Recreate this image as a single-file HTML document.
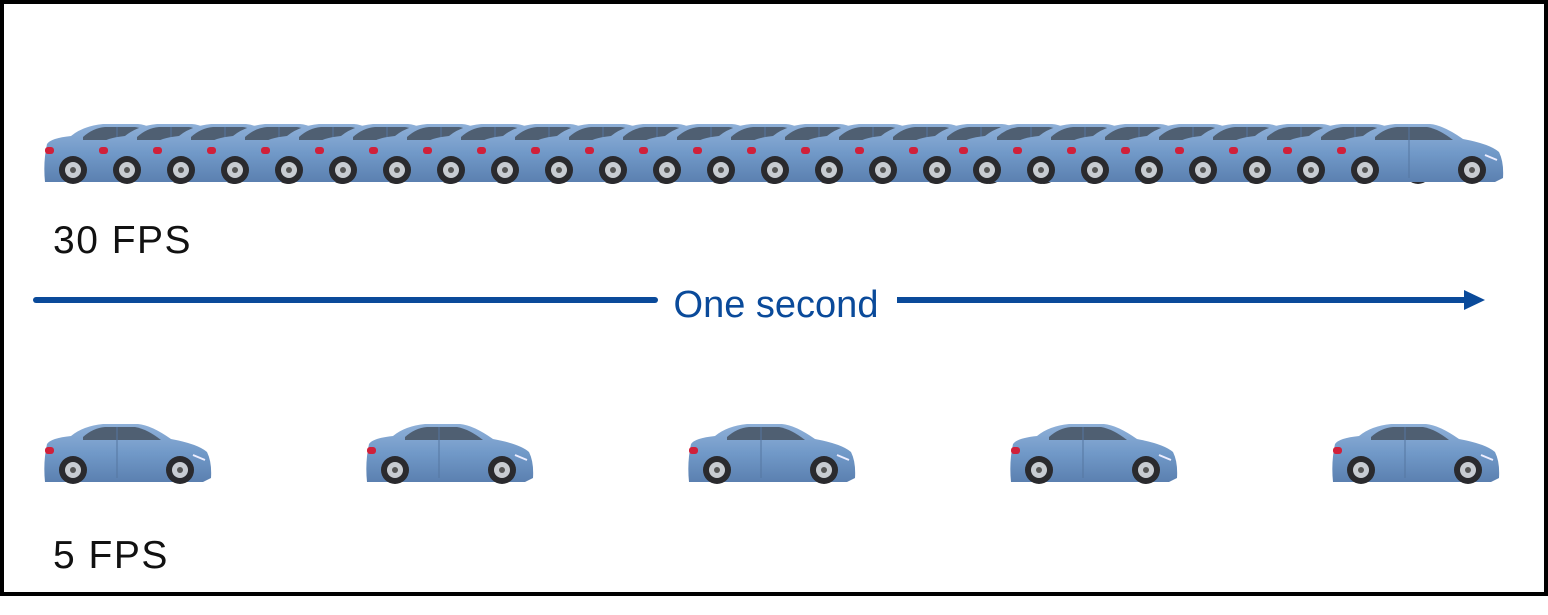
<!DOCTYPE html>
<html><head><meta charset="utf-8"><style>
html,body{margin:0;padding:0;background:#fff;}
body{width:1548px;height:615px;position:relative;overflow:hidden;font-family:"Liberation Sans",sans-serif;}
#frame{position:absolute;left:0;top:0;width:1540px;height:588px;border:4px solid #000;}
.lbl{position:absolute;font-size:39px;color:#111;letter-spacing:1.5px;}
</style></head><body>
<div id="frame"></div>
<svg width="1548" height="615" style="position:absolute;left:0;top:0">
<defs>
<linearGradient id="bg" x1="0" y1="0" x2="0" y2="1">
<stop offset="0" stop-color="#8fb0d8"/><stop offset="0.5" stop-color="#7199c8"/><stop offset="1" stop-color="#5b80b0"/>
</linearGradient>
<g id="car">
<path d="M4,22 Q8,16 28,14 Q40,4 60,2 L95,2 Q108,3 128,17 Q155,22 164,30 Q169,40 168,56 L160,60 L2,60 Q0,40 4,22 Z" fill="url(#bg)"/>
<path d="M40,15 Q50,6 62,5 L92,5 Q104,7 118,18 L40,18 Z" fill="#4f5f72"/>
<line x1="74" y1="5" x2="74" y2="56" stroke="#5576a0" stroke-width="1"/>
<rect x="2" y="25" width="9" height="7" rx="3" fill="#d0203a"/>
<path d="M150,33 L162,38" stroke="#eef" stroke-width="2"/>
<circle cx="30" cy="48" r="14" fill="#2a2a2e"/><circle cx="30" cy="48" r="8" fill="#c8ccd2"/><circle cx="30" cy="48" r="3" fill="#555"/>
<circle cx="137" cy="48" r="14" fill="#2a2a2e"/><circle cx="137" cy="48" r="8" fill="#c8ccd2"/><circle cx="137" cy="48" r="3" fill="#555"/>
</g>
</defs>
<g transform="translate(0,122)">
<use href="#car" x="43"/><use href="#car" x="97"/><use href="#car" x="151"/><use href="#car" x="205"/><use href="#car" x="259"/>
<use href="#car" x="313"/><use href="#car" x="367"/><use href="#car" x="421"/><use href="#car" x="475"/><use href="#car" x="529"/>
<use href="#car" x="583"/><use href="#car" x="637"/><use href="#car" x="691"/><use href="#car" x="745"/><use href="#car" x="799"/>
<use href="#car" x="853"/><use href="#car" x="907"/><use href="#car" x="957"/><use href="#car" x="1011"/><use href="#car" x="1065"/>
<use href="#car" x="1119"/><use href="#car" x="1173"/><use href="#car" x="1227"/><use href="#car" x="1281"/><use href="#car" x="1335"/>
</g>
<g transform="translate(0,422)">
<use href="#car" x="43"/><use href="#car" x="365"/><use href="#car" x="687"/><use href="#car" x="1009"/><use href="#car" x="1331"/>
</g>
<line x1="36" y1="300" x2="655" y2="300" stroke="#0a4a9a" stroke-width="6" stroke-linecap="round"/>
<line x1="897" y1="300" x2="1466" y2="300" stroke="#0a4a9a" stroke-width="6"/>
<polygon points="1464,290 1485,300 1464,310" fill="#0a4a9a"/>
<text x="776" y="317" text-anchor="middle" font-family="Liberation Sans, sans-serif" font-size="38" fill="#0a4a9a">One second</text>
</svg>
<div class="lbl" style="left:53px;top:219px;">30 FPS</div>
<div class="lbl" style="left:53px;top:534px;">5 FPS</div>
</body></html>
